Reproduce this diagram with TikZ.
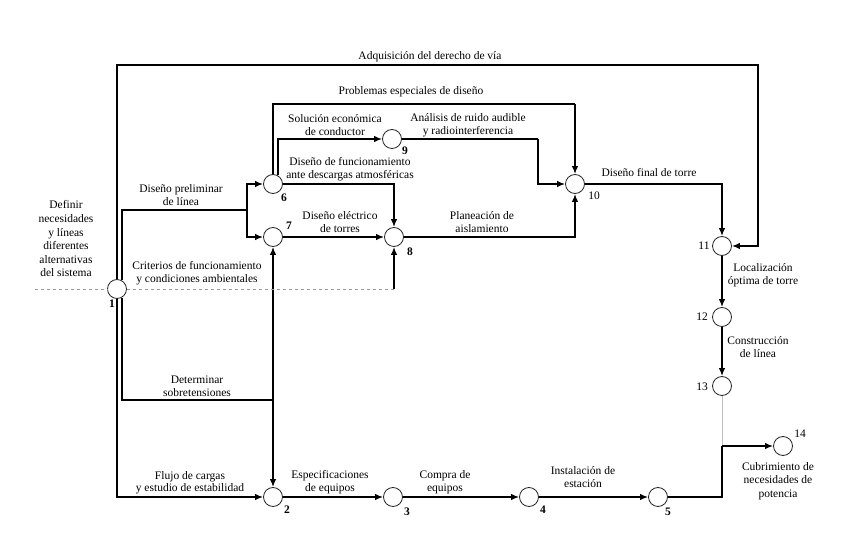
\documentclass[tikz,border=0pt]{standalone}
\usepackage{fontspec}
\setmainfont{Liberation Serif}
\usetikzlibrary{arrows.meta}
\begin{document}
\begin{tikzpicture}[x=1pt,y=-1pt,
  ev/.style={circle,draw=black!85,line width=0.8pt,minimum size=19pt,inner sep=0pt,fill=white},
  ln/.style={line width=1.5pt,black},
  ar/.style={ln,-{Latex[length=8pt,width=6.5pt]}},
  lbl/.style={font=\fontsize{11.5}{12.5}\selectfont,align=center,inner sep=0pt},
  num/.style={font=\fontsize{11.5}{12}\selectfont\bfseries,inner sep=0pt},
  numr/.style={font=\fontsize{11.5}{12}\selectfont,inner sep=0pt},
  faint/.style={line width=0.8pt,black!40,dashed},
  faintline/.style={line width=0.8pt,black!25}
]
\useasboundingbox (0,0) rectangle (863,553);
% events
\node[ev] (n1) at (117,289) {};
\node[ev] (n2) at (273,497) {};
\node[ev] (n3) at (393,497) {};
\node[ev] (n4) at (529,497) {};
\node[ev] (n5) at (658,497) {};
\node[ev] (n6) at (273,184) {};
\node[ev] (n7) at (273,237) {};
\node[ev] (n8) at (394,237) {};
\node[ev] (n9) at (392,139) {};
\node[ev] (n10) at (575,184) {};
\node[ev] (n11) at (722,246) {};
\node[ev] (n12) at (722,317) {};
\node[ev] (n13) at (722,386) {};
\node[ev] (n14) at (783,446) {};
% numbers
\node[num] (k1) at (112,304) {1};
\node[num] (k2) at (287,510) {2};
\node[num] (k3) at (407,512) {3};
\node[num] (k4) at (543,510) {4};
\node[num] (k5) at (668,512) {5};
\node[num] (k6) at (284,198) {6};
\node[num] (k7) at (289,226) {7};
\node[num] (k8) at (410,252) {8};
\node[num] (k9) at (405,151) {9};
\node[numr] (k10) at (594,196) {10};
\node[numr] (k11) at (704,246) {11};
\node[numr] (k12) at (702,317) {12};
\node[numr] (k13) at (702,387) {13};
\node[numr] (k14) at (800,434) {14};
% labels
\node[lbl] (tA) at (430,57) {Adquisición del derecho de vía};
\node[lbl] (tB) at (411,92) {Problemas especiales de diseño};
\node[lbl] (tC) at (335,125) {Solución económica\\de conductor};
\node[lbl] (tD) at (468,125) {Análisis de ruido audible\\y radiointerferencia};
\node[lbl] (tE) at (350,169) {Diseño de funcionamiento\\ante descargas atmosféricas};
\node[lbl] (tF) at (181,195) {Diseño preliminar\\de línea};
\node[lbl] (tG) at (340,222) {Diseño eléctrico\\de torres};
\node[lbl] (tH) at (482,222) {Planeación de\\aislamiento};
\node[lbl] (tI) at (649,173) {Diseño final de torre};
\node[lbl,font=\fontsize{11.5}{13.6}\selectfont] (tJ) at (66,239) {Definir\\necesidades\\y líneas\\diferentes\\alternativas\\del sistema};
\node[lbl] (tK) at (197,273) {Criterios de funcionamiento\\y condiciones ambientales};
\node[lbl] (tL) at (197,386) {Determinar\\sobretensiones};
\node[lbl] (tM) at (190,483) {Flujo de cargas\\y estudio de estabilidad};
\node[lbl] (tN) at (330,482) {Especificaciones\\de equipos};
\node[lbl] (tO) at (445,482) {Compra de\\equipos};
\node[lbl] (tP) at (583,477) {Instalación de\\estación};
\node[lbl,font=\fontsize{11.5}{13.5}\selectfont] (tQ) at (778,481) {Cubrimiento de\\necesidades de\\potencia};
\node[lbl] (tR) at (763,275) {Localización\\óptima de torre};
\node[lbl] (tS) at (758,347) {Construcción\\de línea};
% coordinates
\coordinate (cL) at (35,289);
\coordinate (t2) at (758,65);
\coordinate (dp) at (247,210);
\coordinate (j2) at (273,400);
\coordinate (cr) at (394,289);
\coordinate (pe) at (575,104);
\coordinate (a9) at (538,139);
\coordinate (bk) at (722,446);
% connectors
\draw[faint] (cL) -- (n1.west);
\draw[ar] (n1.north) |- (t2) |- (n11.east);
\draw[ar] (n1.south) |- (n2.west);
\draw[ln] (n1.60) |- (dp);
\draw[ar] (dp) |- (n6.west);
\draw[ar] (dp) |- (n7.west);
\draw[ln] (n1.-60) |- (j2);
\draw[ar] (j2) -- (n7.south);
\draw[ar] (j2) -- (n2.north);
\draw[faint] (n1.east) -- (cr);
\draw[ar] (cr) -- (n8.south);
\draw[ln] (n6.north) |- (pe);
\draw[ar] (pe) -- (n10.north);
\draw[ar] (n6.60) |- (n9.west);
\draw[ar] (n6.east) -| (n8.north);
\draw[ar] (n7.east) -- (n8.west);
\draw[ar] (n8.east) -| (n10.south);
\draw[ln] (n9.east) -- (a9);
\draw[ar] (a9) |- (n10.west);
\draw[ar] (n10.east) -| (n11.north);
\draw[ar] (n11) -- (n12);
\draw[ar] (n12) -- (n13);
\draw[faintline] (n13.south) -- (bk);
\draw[ar] (n2) -- (n3);
\draw[ar] (n3) -- (n4);
\draw[ar] (n4) -- (n5);
\draw[ln] (n5.east) -| (bk);
\draw[ar] (bk) -- (n14.west);
\end{tikzpicture}
\end{document}
